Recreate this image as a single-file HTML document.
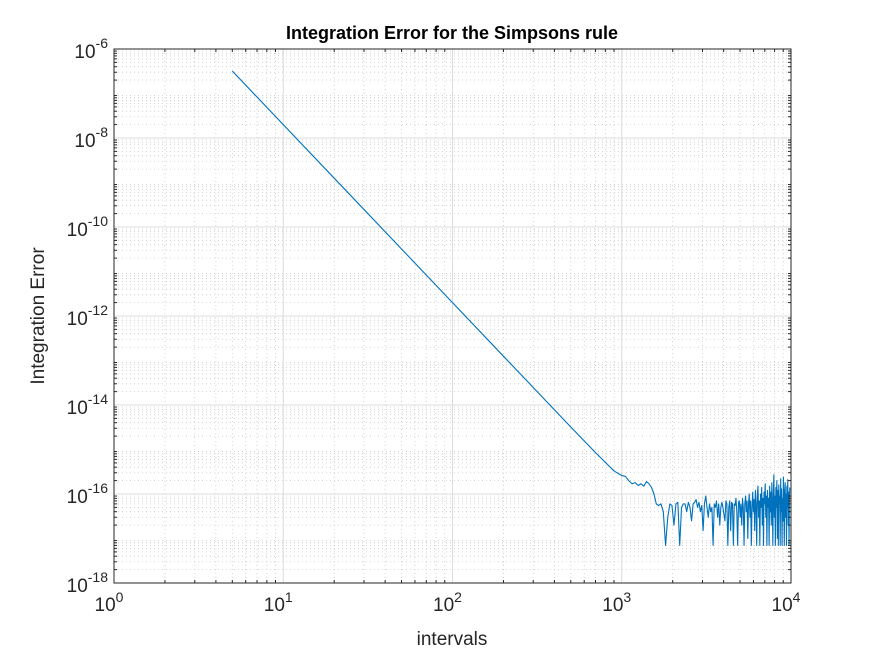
<!DOCTYPE html>
<html><head><meta charset="utf-8"><style>
body{margin:0;background:#fff;}
svg text{font-family:"Liberation Sans",sans-serif;fill:#262626;}
</style></head><body>
<svg id="chart" width="875" height="656" viewBox="0 0 875 656" xmlns="http://www.w3.org/2000/svg">
<rect x="0" y="0" width="875" height="656" fill="#fff"/>
<g id="grid"></g>
<g id="series"></g>
<g id="axes"></g>
<text x="452" y="39" text-anchor="middle" font-size="18" font-weight="bold" style="fill:#000">Integration Error for the Simpsons rule</text>
<text x="452" y="645" text-anchor="middle" font-size="19">intervals</text>
<text x="44" y="316" text-anchor="middle" font-size="19" transform="rotate(-90 44 316)">Integration Error</text>
</svg>
<script>
const xTickExp=[0,1,2,3,4];
const yTickExp=[-18,-16,-14,-12,-10,-8,-6];
const smoothN=[5,10,20,50,100,200,500,700,900,1000,1050,1100,1150,1200,1250,1300,1350,1400,1450,1500,1550,1600,1620];
const smoothErr=[3.2e-7,2e-8,1.25e-9,3.2e-11,2e-12,1.25e-13,3.2e-15,8.5e-16,3.3e-16,2.6e-16,2.5e-16,2.0e-16,1.7e-16,1.8e-16,1.55e-16,1.7e-16,1.5e-16,1.9e-16,1.7e-16,1.4e-16,1.0e-16,6e-17,5.8e-17];
const noiseStart=1650, noiseStep=55;
const noiseErr=[5.5,6,4,0.7,3,6,5.5,2,6,6.5,0.7,5,6,6,4,6.5,5,2.5,6,6.5,7.5,5,6.5,4,5.5,1.5,6,9,5,3,6,4,5,0.7,6,5,7,3,6,2,5,6.5,5,3.5,2.5,7,6,0.7,5,7,1.5,6.5,6,0.7,6,5.5,8,4,0.7,6.5,7,3,6,2,8,5,0.7,6,9,4,7,1,6,10,3,7,0.7,5,11,4,7.5,1.5,12,6,0.7,9,15,3,7,0.7,10,5,14,2,8,0.7,11,6,17,3,9,0.7,12,5,8,0.7,15,4,11,2,18,6,0.7,10,27,3,9,0.7,14,5,20,1,12,0.7,16,6,9,0.7,22,4,13,0.7,8,2.5,24,6,0.7,12,18,3,10,0.7,15,5,21,2,11,0.7,9,14];
const X0=114,X1=791,Y0=49,Y1=583;
const sx=v=>X0+(Math.log10(v)-0)/4*(X1-X0);
const sy=v=>Y1-(Math.log10(v)+18)/12*(Y1-Y0);
const NS="http://www.w3.org/2000/svg";
function mk(tag,attrs,parent){const e=document.createElementNS(NS,tag);for(const k in attrs)e.setAttribute(k,attrs[k]);parent.appendChild(e);return e;}
const grid=document.getElementById('grid'),axes=document.getElementById('axes'),series=document.getElementById('series');
for(let d=0;d<4;d++)for(let m=2;m<=9;m++){const x=sx(m*Math.pow(10,d));
 const l=mk('line',{x1:x,x2:x,y1:Y0,y2:Y1,stroke:'#c8c8c8','stroke-width':0.8,'stroke-dasharray':'1,3'},grid);
 
 const t=mk('line',{x1:x,x2:x,y1:Y1,y2:Y1-3,stroke:'#262626'},axes);
 const t2=mk('line',{x1:x,x2:x,y1:Y0,y2:Y0+3,stroke:'#262626'},axes);}
for(let d=-18;d<-6;d++)for(let m=2;m<=9;m++){const y=sy(m*Math.pow(10,d));
 const l=mk('line',{x1:X0,x2:X1,y1:y,y2:y,stroke:'#c8c8c8','stroke-width':0.8,'stroke-dasharray':'1,3'},grid);
 
 const t=mk('line',{x1:X0,x2:X0+3,y1:y,y2:y,stroke:'#262626'},axes);
 const t2=mk('line',{x1:X1,x2:X1-3,y1:y,y2:y,stroke:'#262626'},axes);}
xTickExp.forEach(e=>{const x=sx(Math.pow(10,e));
 const l=mk('line',{x1:x,x2:x,y1:Y0,y2:Y1,stroke:'#dcdcdc','stroke-width':1},grid);
 const t=mk('text',{x:x-5,y:Y1+28,'text-anchor':'middle','font-size':'19'},axes);
 t.appendChild(document.createTextNode('10'));const s=mk('tspan',{dy:-9,'font-size':'14'},t);s.textContent=String(e);});
yTickExp.forEach(e=>{const y=sy(Math.pow(10,e));
 const l=mk('line',{x1:X0,x2:X1,y1:y,y2:y,stroke:'#dcdcdc','stroke-width':1},grid);
 const t=mk('text',{x:X0-6,y:y+9,'text-anchor':'end','font-size':'19'},axes);
 t.appendChild(document.createTextNode('10'));const s=mk('tspan',{dy:-10,'font-size':'14'},t);s.textContent=String(e);});
const box=mk('rect',{x:X0,y:Y0,width:X1-X0,height:Y1-Y0,fill:'none',stroke:'#262626','stroke-width':1},axes);

let pts=[];smoothN.forEach((n,i)=>pts.push(sx(n).toFixed(2)+','+sy(smoothErr[i]).toFixed(2)));
noiseErr.forEach((v,i)=>{const n=noiseStart+i*noiseStep;if(n<=10000)pts.push(sx(n).toFixed(2)+','+sy(v*1e-17).toFixed(2));});
const pl=mk('polyline',{points:pts.join(' '),fill:'none',stroke:'#0072bd','stroke-width':1.1,'stroke-linejoin':'round'},series);

</script>
</body></html>
